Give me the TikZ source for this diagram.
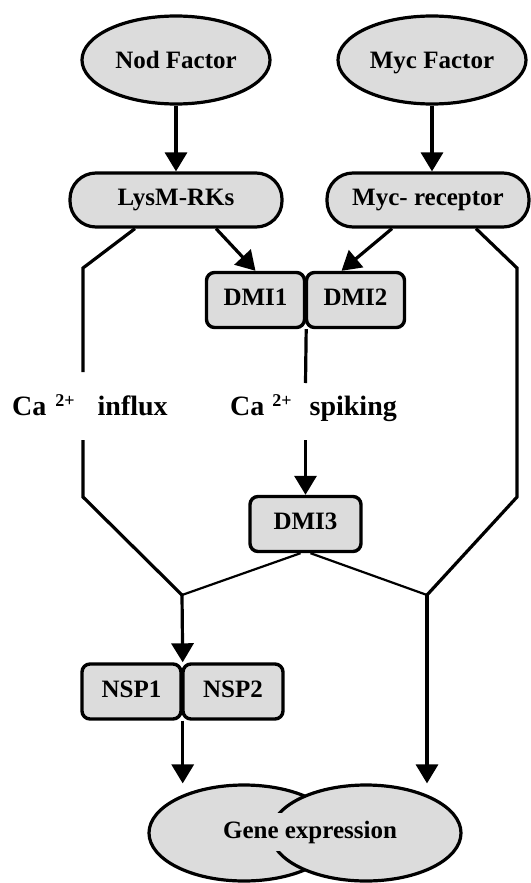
\documentclass[tikz,border=0pt]{standalone}
\usepackage{fontspec}
\setmainfont{Liberation Serif}
\usepackage{xcolor}
\definecolor{grisbloc}{RGB}{220, 220, 220}
\usepackage{tikz}
\usetikzlibrary{positioning, shapes.geometric, arrows.meta}

\begin{document}
\begin{tikzpicture}[
  x=1pt, y=-1pt,
  factor/.style={ellipse, draw, fill=grisbloc, line width=3.2pt, minimum width=188pt, minimum height=88pt, inner sep=0pt, text height=17pt, text depth=0pt, font=\fontsize{25}{30}\selectfont\bfseries},
  receptor/.style={rectangle, draw, fill=grisbloc, line width=3.2pt, rounded corners=26pt, minimum height=54pt, inner sep=0pt, text height=17pt, text depth=6pt, font=\fontsize{25}{30}\selectfont\bfseries},
  protein/.style={rectangle, draw, fill=grisbloc, line width=3.4pt, rounded corners=8pt, minimum height=55pt, inner sep=0pt, text height=17pt, text depth=6pt, font=\fontsize{25}{30}\selectfont\bfseries},
  calcium/.style={inner sep=0pt, font=\fontsize{28}{32}\selectfont\bfseries},
  link/.style={line width=3.2pt},
  thinlink/.style={line width=2.2pt},
  arrow/.style={-{Triangle[width=22pt,length=19pt]}, line width=3.2pt}
]
\useasboundingbox (0,0) rectangle (530,883);
% Row 1: factors
\node[factor] (nod) at (176,60) {Nod Factor};
\node[factor] (myc) at (432,60) {Myc Factor};
% Row 2: receptors
\node[receptor, minimum width=212pt] (lysm) at (176,200) {LysM-RKs};
\node[receptor, minimum width=202pt] (mycr) at (428,200) {Myc- receptor};
% Row 3: DMI proteins
\node[protein, minimum width=98pt] (dmi1) at (255.5,300) {DMI1};
\node[protein, minimum width=98pt] (dmi2) at (355.5,300) {DMI2};
\node[protein, minimum width=111pt] (dmi3) at (305.5,524) {DMI3};
% Row 4: NSP proteins
\node[protein, minimum width=99pt] (nsp1) at (131.5,691.5) {NSP1};
\node[protein, minimum width=100pt] (nsp2) at (233,691.5) {NSP2};
% Calcium labels
\node[calcium, anchor=base west] (influx) at (12,415) {Ca\hspace{9pt}\raisebox{9pt}{\fontsize{18}{18}\selectfont 2+}\hspace{23pt}influx};
\node[calcium, anchor=base west] (spiking) at (230,415) {Ca\hspace{8pt}\raisebox{9pt}{\fontsize{18}{18}\selectfont 2+}\hspace{18pt}spiking};
% Gene expression
\node[factor, minimum width=190pt, minimum height=96pt] (genel) at (244,833) {};
\node[factor, minimum width=190pt, minimum height=96pt] (gener) at (366,833) {};
\node[fill=grisbloc, inner xsep=4pt, inner ysep=8pt, font=\fontsize{25}{30}\selectfont\bfseries] (gene) at (310,832) {Gene expression};
% Bends and gaps
\coordinate (lbend) at (83,268);
\coordinate (lgap1) at (83,372);
\coordinate (lgap2) at (83,440);
\coordinate (lbend2) at (83,497);
\coordinate (ljoin) at (182,595);
\coordinate (rbend) at (517,268);
\coordinate (rbend2) at (517,497);
\coordinate (rjoin) at (427,595);
\coordinate (sgap1) at (305.5,383);
\coordinate (sgap2) at (305.5,440);
% Arrows
\draw[arrow] (nod) -- (lysm);
\draw[arrow] (myc) -- (myc |- mycr.north);
\draw[arrow] ([xshift=40pt]lysm.south) -- (dmi1.north);
\draw[arrow] ([xshift=-36pt]mycr.south) -- ([xshift=-14pt]dmi2.north);
\draw[link] ([xshift=-41pt]lysm.south) -- (lbend) -- (lgap1);
\draw[link] (lgap2) -- (lbend2) -- (ljoin);
\draw[link] ([xshift=48pt]mycr.south) -- (rbend) -- (rbend2) -- (rjoin);
\draw[link] (dmi1.south east) -- (sgap1);
\draw[arrow] (sgap2) -- (dmi3.north);
\draw[thinlink] ([xshift=-5pt]dmi3.south) -- (ljoin);
\draw[thinlink] ([xshift=5pt]dmi3.south) -- (rjoin);
\draw[arrow] (ljoin) -- (nsp1.north east);
\draw[arrow] (nsp1.south east) -- (nsp1.south east |- genel.north);
\draw[arrow] (rjoin) -- (rjoin |- gener.north);
\end{tikzpicture}
\end{document}
